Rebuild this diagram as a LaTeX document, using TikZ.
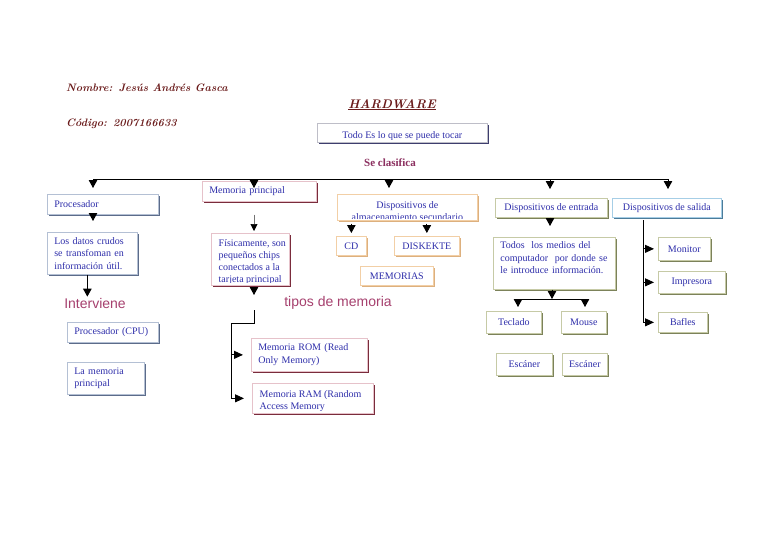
\documentclass[tikz,border=0pt]{standalone}
\usepackage{fontspec}
\newfontfamily\tms{Liberation Serif}
\newfontfamily\arl{Liberation Sans}
\usetikzlibrary{arrows.meta,shadows}
\definecolor{txtblue}{HTML}{2E2EAA}
\definecolor{headred}{HTML}{6B1C1C}
\definecolor{clasif}{HTML}{8B2F5F}
\definecolor{pinkt}{HTML}{A6406E}
\definecolor{bgD}{HTML}{B4C0D4}\definecolor{bgS}{HTML}{5C6C8A}
\definecolor{pkD}{HTML}{E6C2CA}\definecolor{pkS}{HTML}{7A2C3C}
\definecolor{pcD}{HTML}{F2CFA6}\definecolor{pcS}{HTML}{DDB07E}
\definecolor{khD}{HTML}{C6CAA6}\definecolor{khS}{HTML}{7C825A}
\definecolor{lbD}{HTML}{A6CEE6}\definecolor{lbS}{HTML}{4C7C9A}
\definecolor{gyD}{HTML}{BEBEC8}\definecolor{gyS}{HTML}{3E3E6E}
\pgfdeclarelayer{bg}\pgfsetlayers{bg,main}
\newcommand\bx[8][]{%
  \pgfmathsetmacro\bxw{#6-#4}%
  \pgfmathsetmacro\bxh{#7-#5}%
  \pgfmathsetmacro\bxtw{#6-#4-14}%
  \node[#2, minimum width=\bxw pt, minimum height=\bxh pt, anchor=north west, #1] (#3) at (#4,#5) {#8};}
\tikzset{
 boxbase/.style={rectangle, fill=white, line width=0.7pt, inner sep=0pt, text=txtblue,
   font=\tms\fontsize{10}{12.5}\selectfont, align=center},
 shad/.style={drop shadow={shadow xshift=1.3pt, shadow yshift=-1.3pt, fill=#1, opacity=1}},
 bgbox/.style={boxbase, draw=bgD, shad=bgS},
 pkbox/.style={boxbase, draw=pkD, shad=pkS},
 pcbox/.style={boxbase, draw=pcD, shad=pcS},
 khbox/.style={boxbase, draw=khD, shad=khS},
 lbbox/.style={boxbase, draw=lbD, shad=lbS},
 gybox/.style={boxbase, draw=gyD, shad=gyS},
 lt/.style={text width=\bxtw pt, align=left, inner xsep=7pt},
 txtn/.style={inner sep=0pt, minimum width=0pt, minimum height=0pt, draw=none, fill=none,
   text=txtblue, font=\tms\fontsize{10}{12}\selectfont},
 hdr/.style={inner sep=0pt, text=headred, font=\fontsize{10.8}{12}\selectfont\bfseries\itshape\addfontfeatures{LetterSpace=8}},
 lbl/.style={inner sep=0pt, text=pinkt, font=\arl\fontsize{14}{16}\selectfont},
 arr/.style={-{Triangle[width=8.5pt,length=8pt]}, line width=0.9pt},
 sarr/.style={-{Triangle[width=8pt,length=9pt]}, line width=0.9pt},
 tarr/.style={-{Triangle[width=7pt,length=7pt,color=black]}, line width=0.6pt, draw=black!55},
 ln/.style={line width=0.9pt},
}
\newcommand\ppb{path picture bounding box}
\begin{document}
\begin{tikzpicture}[x=1pt,y=-1pt]
\fill[white] (0,0) rectangle (768,543);
\useasboundingbox (0,0) rectangle (768,543);

% header
\node[hdr, anchor=base west] (nombre) at (66,91) {Nombre: Jesús Andrés Gasca};
\node[hdr, anchor=base west] (codigo) at (66,126) {Código: 2007166633};
\node[hdr, font=\fontsize{12.5}{14}\selectfont\bfseries\itshape\addfontfeatures{LetterSpace=4}, anchor=base] (hw) at (392,108) {\underline{HARDWARE}};

\bx[path picture={\clip ([yshift=3pt]\ppb.south west) rectangle (\ppb.north east);
  \node[txtn, anchor=base] at ([yshift=4pt]\ppb.south) {Todo Es lo que se puede tocar};}]
  {gybox}{todo}{317}{123}{487}{142}{}

\node[inner sep=0pt, text=clasif, font=\tms\bfseries\fontsize{11}{13}\selectfont] (clas) at (390,163) {Se clasifica};

% level 1 boxes
\bx[lt]{bgbox}{proc}{47}{194}{158}{214}{Procesador}
\bx[lt]{pkbox}{memp}{202}{181}{316}{201}{Memoria principal}
\bx[path picture={\clip ([yshift=2pt]\ppb.south west) rectangle (\ppb.north east);
  \node[txtn, anchor=base] at ([yshift=-14pt]\ppb.north) {Dispositivos de};
  \node[txtn, anchor=base] at ([yshift=-26.5pt]\ppb.north) {almacenamiento secundario};}]
  {pcbox}{alm}{337}{194}{477}{220}{}
\bx{khbox}{ent}{495}{198}{607}{217}{Dispositivos de entrada}
\bx{lbbox}{sal}{612}{198}{721}{217}{Dispositivos de salida}

% procesador branch
\bx[lt]{bgbox}{datos}{47}{232}{137}{274}{Los datos crudos\\se transfoman en\\información útil.}
\node[lbl] (interv) at (95,303) {Interviene};
\bx[lt]{bgbox}{cpu}{67}{322}{158}{342}{Procesador (CPU)}
\bx[lt]{bgbox}{lamem}{67}{362}{144}{394}{La memoria\\principal}

% memoria branch
\bx[path picture={\clip ([yshift=2.5pt]\ppb.south west) rectangle (\ppb.north east);
  \node[txtn, anchor=base west] at ([shift={(7pt,-13pt)}]\ppb.north west) {Físicamente, son};
  \node[txtn, anchor=base west] at ([shift={(7pt,-25pt)}]\ppb.north west) {pequeños chips};
  \node[txtn, anchor=base west] at ([shift={(7pt,-37pt)}]\ppb.north west) {conectados a la};
  \node[txtn, anchor=base west] at ([shift={(7pt,-49pt)}]\ppb.north west) {tarjeta principal};}]
  {pkbox}{fis}{211}{233}{289}{285}{}
\node[lbl] (tipos) at (338,303) {tipos de memoria};
\bx[lt]{pkbox}{rom}{251}{338}{367}{371}{Memoria ROM (Read\\Only Memory)}
\bx[path picture={\clip ([yshift=3pt]\ppb.south west) rectangle (\ppb.north east);
  \node[txtn, anchor=base west] at ([shift={(7pt,-14pt)}]\ppb.north west) {Memoria RAM (Random};
  \node[txtn, anchor=base west] at ([shift={(7pt,-26pt)}]\ppb.north west) {Access Memory};}]
  {pkbox}{ram}{252}{383}{373}{413}{}

% almacenamiento branch
\bx{pcbox}{cd}{336}{236}{366}{255}{CD}
\bx{pcbox}{disk}{394}{236}{459}{255}{DISKEKTE}
\bx{pcbox}{mems}{360}{266}{433}{285}{MEMORIAS}

% entrada branch
\bx[lt, text depth=36pt]{khbox}{todos}{493}{237}{615}{289}{Todos~ los medios del\\computador~ por donde se\\le introduce información.}
\bx{khbox}{tec}{486}{311}{541}{333}{Teclado}
\bx{khbox}{mou}{561}{311}{606}{333}{Mouse}
\bx{khbox}{esc1}{496}{353}{552}{375}{Escáner}
\bx{khbox}{esc2}{562}{353}{607}{375}{Escáner}

% salida branch
\bx{khbox}{mon}{658}{237}{710}{260}{Monitor}
\bx{khbox}{imp}{658}{271}{725}{293}{Impresora}
\bx{khbox}{baf}{658}{312}{707}{332}{Bafles}

% bus
\coordinate (b1) at (93,179);
\coordinate (b2) at (254,179);
\coordinate (b3) at (389,179);
\coordinate (b4) at (550,179);
\coordinate (b5) at (668,179);
\draw[ln] (b1) -- (b5);
\draw[arr, shorten >=6pt] (b1) -- (b1 |- proc.north);
\draw[arr, shorten >=-7pt] (b2) -- (b2 |- memp.north);
\draw[arr, shorten >=6pt] (b3) -- (b3 |- alm.north);
\draw[arr, shorten >=9pt] (b4) -- (b4 |- ent.north);
\draw[arr, shorten >=9pt] (b5) -- (b5 |- sal.north);

% procesador
\draw[arr, shorten >=11pt] (b1 |- proc.south) -- (b1 |- datos.north);
\draw[arr, shorten >=1pt] ([xshift=-5pt]datos.south) -- ([xshift=-5pt]datos.south |- interv.north);

% memoria
\draw[tarr, shorten <=13pt, shorten >=2pt] (b2 |- memp.south) -- (b2 |- fis.north);
\coordinate (tj) at (254,310);
\coordinate (tc) at (231,323);
\draw[arr, shorten <=2pt, shorten >=15pt] (tj |- fis.south) -- (tj);
\draw[ln] (tj) -- (tj |- tc) -- (tc) -- (tc |- ram.west);
\draw[sarr, shorten >=8pt] (tc |- rom.west) -- (rom.west);
\draw[sarr, shorten >=8pt] (tc |- ram.west) -- (ram.west);

% almacenamiento
\draw[arr, shorten <=3pt, shorten >=3pt] (alm.south -| cd.north) -- (cd.north);
\draw[arr, shorten <=3pt, shorten >=3pt] (alm.south -| disk.north) -- (disk.north);

% entrada
\draw[arr, shorten >=11pt] (b4 |- ent.south) -- (b4 |- todos.north);
\coordinate (eb) at (552,299);
\coordinate (eL) at (518,299);
\coordinate (eR) at (585,299);
\coordinate (v1) at (531,299);
\coordinate (v2) at (570,299);
\draw[arr] (eb |- todos.south) -- (eb);
\draw[ln] (eL) -- (eR);
\draw[arr, shorten >=4pt] (eL) -- (eL |- tec.north);
\draw[arr, shorten >=4pt] (eR) -- (eR |- mou.north);
\begin{pgfonlayer}{bg}
\draw[ln] (v1) -- (v1 |- esc1.north);
\draw[ln] (v2) -- (v2 |- esc2.north);
\end{pgfonlayer}

% salida
\coordinate (sv) at (643,220);
\draw[ln] (sv) -- (sv |- baf.west);
\draw[sarr, shorten >=4pt] (sv |- mon.west) -- (mon.west);
\draw[sarr, shorten >=4pt] (sv |- imp.west) -- (imp.west);
\draw[sarr, shorten >=4pt] (sv |- baf.west) -- (baf.west);
\end{tikzpicture}
\end{document}
